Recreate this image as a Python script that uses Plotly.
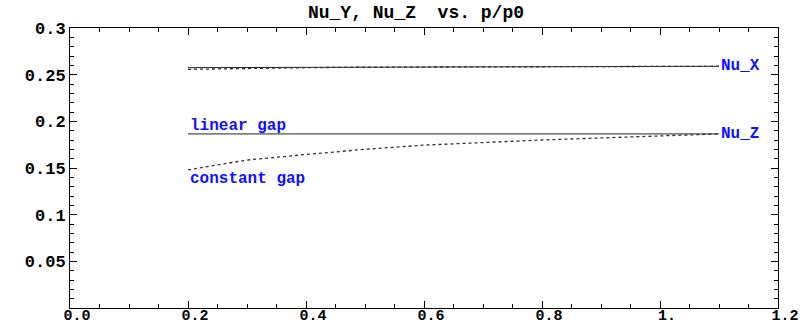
import plotly.graph_objects as go

# pressure ratio p/p0 at which the Nusselt numbers were evaluated
p_ratio = [0.2, 0.3, 0.4, 0.5, 0.6, 0.7, 0.8, 0.9, 1.0, 1.1]

# Nu_X: linear gap (solid) and constant gap (dotted)
nu_x_linear = [0.2575, 0.2577, 0.2578, 0.2580, 0.2582, 0.2583, 0.2585, 0.2587, 0.2588, 0.2590]
nu_x_const = [0.2557, 0.2568, 0.2575, 0.2580, 0.2582, 0.2583, 0.2585, 0.2587, 0.2588, 0.2590]

# Nu_Z: linear gap (solid) and constant gap (dotted)
nu_z_linear = [0.1865, 0.1865, 0.1865, 0.1865, 0.1865, 0.1865, 0.1865, 0.1865, 0.1865, 0.1865]
nu_z_const = [0.1480, 0.1585, 0.1645, 0.1700, 0.1745, 0.1775, 0.1800, 0.1822, 0.1843, 0.1865]

x_tickvals = [0.0, 0.2, 0.4, 0.6, 0.8, 1.0, 1.2]
x_ticktext = ["0.0", "0.2", "0.4", "0.6", "0.8", "1.", "1.2"]
y_tickvals = [0.05, 0.1, 0.15, 0.2, 0.25, 0.3]
y_ticktext = ["0.05", "0.1", "0.15", "0.2", "0.25", "0.3"]

MONO = "Liberation Mono, Courier New, monospace"
BLUE = "#1010ff"

fig = go.Figure()

solid = dict(color="#222222", width=1)
dotted = dict(color="#333333", width=1.3, dash="dot")

fig.add_trace(go.Scatter(x=p_ratio, y=nu_x_linear, mode="lines", line=solid))
fig.add_trace(go.Scatter(x=p_ratio, y=nu_x_const, mode="lines", line=dotted))
fig.add_trace(go.Scatter(x=p_ratio, y=nu_z_linear, mode="lines", line=solid))
fig.add_trace(go.Scatter(x=p_ratio, y=nu_z_const, mode="lines", line=dotted))

ann_font = dict(family=MONO, size=16, color=BLUE, weight="bold")
fig.add_annotation(x=p_ratio[-1], y=nu_x_linear[-1], text="Nu_X", showarrow=False,
                   xanchor="left", yanchor="middle", font=ann_font)
fig.add_annotation(x=p_ratio[-1], y=nu_z_linear[-1], text="Nu_Z", showarrow=False,
                   xanchor="left", yanchor="middle", font=ann_font)
fig.add_annotation(x=p_ratio[0], y=0.1955, text="linear gap", showarrow=False,
                   xanchor="left", yanchor="middle", font=ann_font)
fig.add_annotation(x=p_ratio[0], y=0.1385, text="constant gap", showarrow=False,
                   xanchor="left", yanchor="middle", font=ann_font)

axis_common = dict(
    showline=True, linecolor="black", linewidth=1, mirror="ticks",
    ticks="inside", ticklen=7, tickcolor="black", tickwidth=1,
    showgrid=False, zeroline=False, automargin=False,
)

fig.update_xaxes(
    range=[0, 1.2], tickmode="array", tickvals=x_tickvals, ticktext=x_ticktext,
    ticklabelshift=7, ticklabelstandoff=-7,
    tickfont=dict(family=MONO, size=15, color="black", weight="bold"),
    minor=dict(tickmode="linear", tick0=0, dtick=0.05, ticks="inside",
               ticklen=4, tickcolor="black", showgrid=False),
    **axis_common,
)
fig.update_yaxes(
    range=[0, 0.3], tickmode="array", tickvals=y_tickvals, ticktext=y_ticktext,
    tickfont=dict(family=MONO, size=17, color="black", weight="bold"),
    minor=dict(tickmode="linear", tick0=0, dtick=0.01, ticks="inside",
               ticklen=4, tickcolor="black", showgrid=False),
    **axis_common,
)

fig.update_layout(
    width=807, height=325,
    margin=dict(l=70, r=29, t=28, b=17),
    paper_bgcolor="white", plot_bgcolor="white",
    showlegend=False,
    title=dict(text="Nu_Y, Nu_Z \u00a0vs. p/p0", x=416 / 807, xanchor="center",
               y=1 - 12 / 325, yanchor="middle",
               font=dict(family=MONO, size=18, color="black", weight="bold")),
)

fig.write_html("out.html")
